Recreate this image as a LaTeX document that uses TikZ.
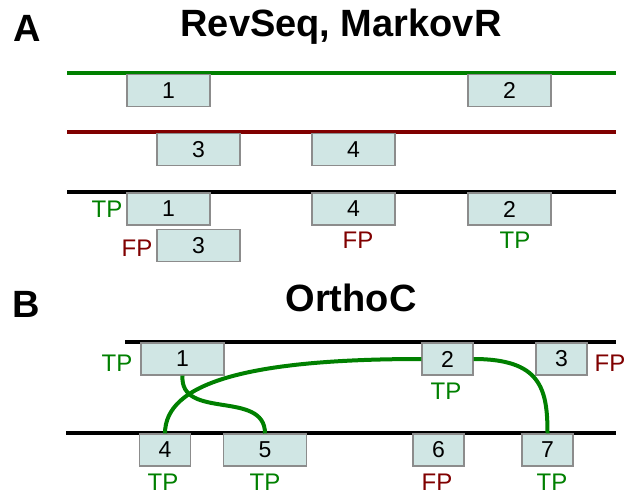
\documentclass[tikz,border=0pt]{standalone}
\usepackage{fontspec}
\setmainfont{Liberation Sans}
\definecolor{boxfill}{RGB}{208,230,228}
\definecolor{boxedge}{RGB}{140,140,140}
\definecolor{tpgreen}{RGB}{0,128,0}
\definecolor{fpred}{RGB}{128,0,0}
\tikzset{
  gbox/.style={draw=boxedge, line width=1.2pt, fill=boxfill, minimum height=32pt, inner sep=0pt, font=\fontsize{23}{25}\selectfont},
  wide/.style={gbox, minimum width=83pt},
  narrow/.style={gbox, minimum width=51pt},
  tp/.style={text=tpgreen, inner sep=0pt, font=\fontsize{24}{26}\selectfont},
  fp/.style={text=fpred, inner sep=0pt, font=\fontsize{24}{26}\selectfont},
  ttl/.style={inner sep=0pt, font=\fontsize{38}{40}\selectfont\bfseries},
  track/.style={line width=4pt},
  link/.style={tpgreen, line width=4pt},
}
\begin{document}
\begin{tikzpicture}[x=1pt,y=-1pt]
\useasboundingbox (0,0) rectangle (626,490);
% titles
\node[ttl] (lA) at (27,28) {A};
\node[ttl] (tA) at (341,27) {RevSeq, MarkovR};
\node[ttl] (lB) at (26,304) {B};
\node[ttl] (tB) at (351,298) {OrthoC};
% panel A tracks
\draw[track, tpgreen] (67,73) coordinate (g0) -- (616,73) coordinate (g1);
\draw[track, fpred] (67,132) coordinate (r0) -- (616,132) coordinate (r1);
\draw[track, black] (67,192) coordinate (k0) -- (616,192) coordinate (k1);
% panel A boxes
\node[wide] (a1) at (168.5,90.5) {1};
\node[wide] (a2) at (509.5,90.5) {2};
\node[wide] (a3) at (198.5,149.5) {3};
\node[wide] (a4) at (353.5,149.5) {4};
\node[wide] (m1) at (168.5,209) {1};
\node[wide] (m4) at (353.5,209) {4};
\node[wide] (m2) at (509.5,209) {2};
\node[wide] (m3) at (198.5,245.5) {3};
\node[tp] (l1) at (107,209) {TP};
\node[fp] (l2) at (137,248) {FP};
\node[fp] (l3) at (358,240) {FP};
\node[tp] (l4) at (515,240) {TP};
% panel B tracks
\draw[track, black] (125,342) coordinate (u0) -- (616,342) coordinate (u1);
\draw[track, black] (66,433) coordinate (d0) -- (616,433) coordinate (d1);
% panel B boxes
\node[wide] (b1) at (182.5,359) {1};
\node[narrow] (b2) at (447.5,359) {2};
\node[narrow] (b3) at (561.5,359) {3};
\node[narrow] (b4) at (165,450) {4};
\node[wide] (b5) at (265,450) {5};
\node[narrow] (b6) at (438.5,450) {6};
\node[narrow] (b7) at (547.5,450) {7};
\node[tp] (p1) at (117,363) {TP};
\node[fp] (p3) at (610,363) {FP};
\node[tp] (p2) at (446,391) {TP};
\node[tp] (p4) at (163,482) {TP};
\node[tp] (p5) at (265,482) {TP};
\node[fp] (p6) at (437,482) {FP};
\node[tp] (p7) at (552,482) {TP};
% links
\draw[link] (b1.south) .. controls +(-3,45) and +(0,-44) .. (b5.north);
\draw[link] (b4.north) .. controls +(0,-50) and +(-175,0) .. (b2.west);
\draw[link] (b2.east) .. controls +(67,0) and +(0,-45) .. (b7.north);
\end{tikzpicture}
\end{document}
